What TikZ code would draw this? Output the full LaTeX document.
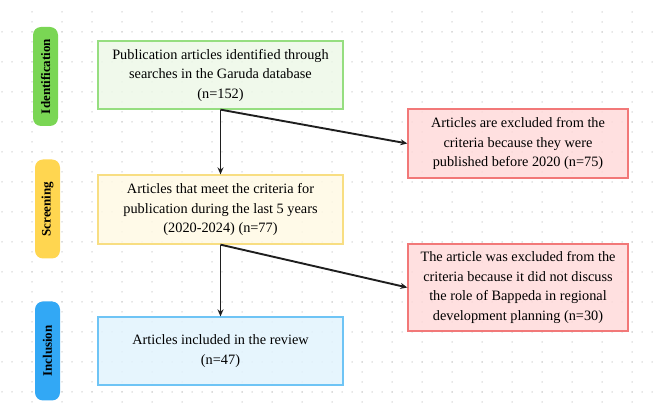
\documentclass[tikz,border=0pt]{standalone}
\usepackage{fontspec}
\setmainfont{Liberation Serif}
\usetikzlibrary{arrows.meta}

\definecolor{dotgray}{RGB}{205,205,205}
\definecolor{idpill}{RGB}{122,214,84}
\definecolor{idfill}{RGB}{237,248,232}
\definecolor{iddraw}{RGB}{150,222,128}
\definecolor{scpill}{RGB}{255,214,80}
\definecolor{scfill}{RGB}{255,249,228}
\definecolor{scdraw}{RGB}{248,222,130}
\definecolor{inpill}{RGB}{50,168,245}
\definecolor{infill}{RGB}{226,243,253}
\definecolor{indraw}{RGB}{110,196,245}
\definecolor{exfill}{RGB}{255,218,218}
\definecolor{exdraw}{RGB}{242,120,120}
\definecolor{linegray}{RGB}{30,30,30}

\tikzset{
  pill/.style={rotate=90, rounded corners=8pt, minimum width=99pt, minimum height=25pt,
    inner sep=0pt, font=\fontsize{13}{15}\selectfont\bfseries},
  stagebox/.style={draw, line width=1.3pt, fill opacity=0.85, text opacity=1,
    minimum width=245pt, minimum height=68pt, align=center, inner sep=2pt,
    font=\fontsize{14.3}{19.5}\selectfont},
  excbox/.style={stagebox, draw=exdraw, fill=exfill, minimum width=220pt, minimum height=69pt},
  flow/.style={draw=linegray, line width=1.9pt, -{Stealth[length=7pt,width=6pt]}}
}

\begin{document}
\begin{tikzpicture}[x=1pt,y=-1pt]
    \useasboundingbox (0,0) rectangle (654,403);
    %Grid
        \foreach \y in {32,62,...,392}
            \foreach \x in {2,12,...,652}
                \fill[dotgray] (\x,\y) circle (0.75pt);
        \foreach \x in {32,62,...,632}
            \foreach \y in {12,22,...,402}
                \fill[dotgray] (\x,\y) circle (0.75pt);
    %Stages
        \node[pill, fill=idpill] (idpl) at (45.5,76.5) {Identification};
        \node[pill, fill=scpill] (scpl) at (47.5,209) {Screening};
        \node[pill, fill=inpill] (inpl) at (47.5,351) {Inclusion};
    %Boxes
        \node[stagebox, draw=iddraw, fill=idfill] (ident) at (220.5,75)
            {Publication articles identified through\\searches in the Garuda database\\(n=152)};
        \node[stagebox, draw=scdraw, fill=scfill, minimum height=69pt] (screen) at (220.5,209.5)
            {Articles that meet the criteria for\\publication during the last 5 years\\(2020-2024) (n=77)};
        \node[stagebox, draw=indraw, fill=infill] (incl) at (220.5,351)
            {Articles included in the review\\(n=47)};
        \node[excbox] (excone) at (518,143.5)
            {Articles are excluded from the\\criteria because they were\\published before 2020 (n=75)};
        \node[excbox, minimum height=87pt] (exctwo) at (518,287.5)
            {The article was excluded from the\\criteria because it did not discuss\\the role of Bappeda in regional\\development planning (n=30)};
    %Arrows
        \draw[flow] (ident.south) -- (screen.north);
        \draw[flow] (ident.south) -- (excone.west);
        \draw[flow] (screen.south) -- (incl.north);
        \draw[flow] (screen.south) -- (exctwo.west);
\end{tikzpicture}
\end{document}
